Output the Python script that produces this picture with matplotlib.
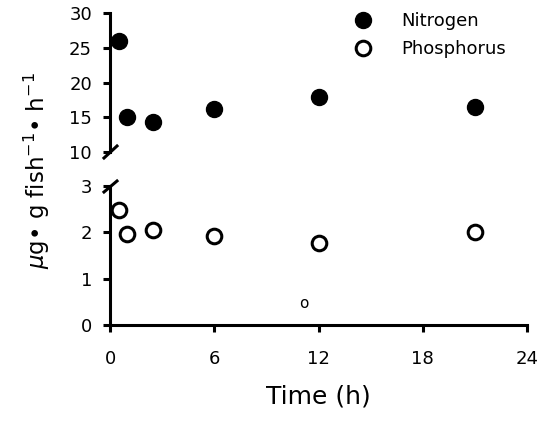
import matplotlib
matplotlib.use("Agg")
import matplotlib.pyplot as plt

plt.rcParams['font.family'] = ['DejaVu Sans']
plt.rcParams['mathtext.fontset'] = 'dejavusans'

time_h = [0.5, 1, 2.5, 6, 12, 21]
nitrogen = [26.0, 15.0, 14.3, 16.2, 17.9, 16.5]
phosphorus = [2.48, 1.97, 2.05, 1.92, 1.78, 2.0]
x_ticks = [0, 6, 12, 18, 24]
top_ticks = [10, 15, 20, 25, 30]
bottom_ticks = [0, 1, 2, 3]

W, H = 545, 424
fig = plt.figure(figsize=(W / 100, H / 100), dpi=100)

left = 110 / W
width = 417 / W
ax_top = fig.add_axes([left, (H - 152) / H, width, 139 / H])
ax_bot = fig.add_axes([left, (H - 325) / H, width, 139 / H])

lw = 2.2
ms = 11.5

for ax in (ax_top, ax_bot):
    ax.set_xlim(0, 24)
    ax.spines['top'].set_visible(False)
    ax.spines['right'].set_visible(False)
    ax.spines['left'].set_linewidth(lw)
    ax.spines['bottom'].set_linewidth(lw)
    ax.tick_params(direction='out', length=5, width=lw, labelsize=13, pad=8)
    ax.patch.set_visible(False)

ax_top.set_ylim(10, 30)
ax_top.set_yticks(top_ticks)
ax_top.spines['bottom'].set_visible(False)
ax_top.tick_params(axis='x', bottom=False, labelbottom=False)

ax_bot.set_ylim(0, 3)
ax_bot.set_yticks(bottom_ticks)
ax_bot.set_xticks(x_ticks)
ax_bot.tick_params(axis='x', pad=13)

hN, = ax_top.plot(time_h, nitrogen, 'o', color='black', markersize=ms,
                  clip_on=False, label='Nitrogen')
hP, = ax_bot.plot(time_h, phosphorus, 'o', markerfacecolor='white',
                  markeredgecolor='black', markeredgewidth=2.2, markersize=ms - 1,
                  clip_on=False, label='Phosphorus')

# break marks
d = dict(transform=fig.transFigure, color='black', lw=lw, clip_on=False)
fig.add_artist(plt.Line2D([104 / W, 117 / W], [1 - 158 / H, 1 - 146 / H], **d))
fig.add_artist(plt.Line2D([104 / W, 117 / W], [1 - 192 / H, 1 - 181 / H], **d))

ax_bot.set_xlabel('Time (h)', fontsize=18, labelpad=12)
fig.text(37 / W, 1 - 171 / H, r'$\mathit{\mu}$g• g fish$^{-1}$• h$^{-1}$', rotation=90,
         fontsize=16.5, ha='center', va='center')

ax_top.legend(handles=[hN, hP], loc='upper left', bbox_to_anchor=(333 / W, 1 + 4 / H),
              bbox_transform=fig.transFigure, frameon=False, fontsize=13,
              handletextpad=1.4, labelspacing=0.55, handlelength=1.5)

fig.text(304 / W, 1 - 304 / H, 'o', fontsize=11, ha='center', va='center')

fig.savefig('out.png', dpi=100)
